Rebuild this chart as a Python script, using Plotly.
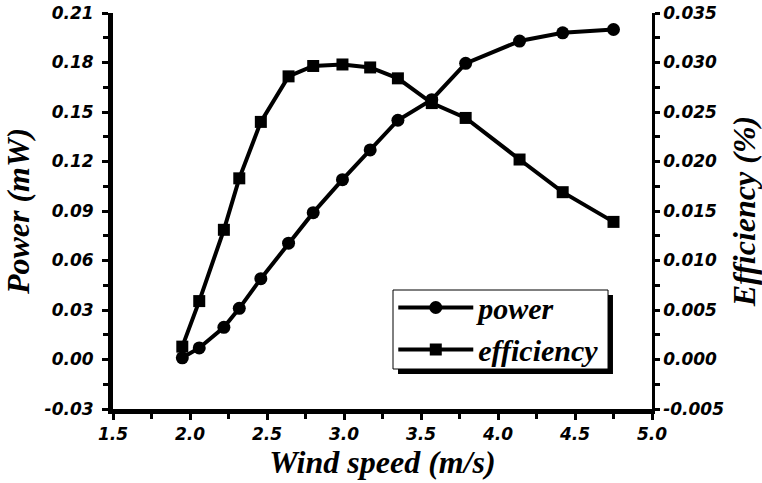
import plotly.graph_objects as go

# Wind speed (m/s) for each measurement
wind_speed = [1.95, 2.06, 2.22, 2.32, 2.46, 2.64, 2.80, 2.99, 3.17, 3.35, 3.57, 3.79, 4.14, 4.42, 4.75]
# Output power (mW)
power = [0.001, 0.007, 0.0195, 0.031, 0.049, 0.0705, 0.089, 0.109, 0.127, 0.145, 0.1575, 0.1795, 0.193, 0.198, 0.200]
# Conversion efficiency (%)
efficiency = [0.0013, 0.0059, 0.0131, 0.0183, 0.0240, 0.0286, 0.02965, 0.0298, 0.0295, 0.0284, 0.0259, 0.0244, 0.0202, 0.0169, 0.0139]

x_ticks = [1.5, 2.0, 2.5, 3.0, 3.5, 4.0, 4.5, 5.0]
x_labels = ["1.5", "2.0", "2.5", "3.0", "3.5", "4.0", "4.5", "5.0"]
p_ticks = [-0.03, 0.0, 0.03, 0.06, 0.09, 0.12, 0.15, 0.18, 0.21]
p_labels = ["-0.03", "0.00", "0.03", "0.06", "0.09", "0.12", "0.15", "0.18", "0.21"]
e_ticks = [-0.005, 0.0, 0.005, 0.010, 0.015, 0.020, 0.025, 0.030, 0.035]
e_labels = ["-0.005", "0.000", "0.005", "0.010", "0.015", "0.020", "0.025", "0.030", "0.035"]

tick_font = dict(family="DejaVu Sans", size=17, color="black", weight="bold", style="italic")
title_font = dict(family="Liberation Serif", size=32, color="black", weight="bold", style="italic")

fig = go.Figure()
fig.add_trace(go.Scatter(
    x=wind_speed, y=power, name="power", mode="lines+markers",
    line=dict(color="black", width=4),
    marker=dict(symbol="circle", size=13, color="black"),
    legendgroup="a",
))
fig.add_trace(go.Scatter(
    x=wind_speed, y=efficiency, name="efficiency", mode="lines+markers", yaxis="y2",
    line=dict(color="black", width=4),
    marker=dict(symbol="square", size=12, color="black"),
    legendgroup="b",
))

axis_common = dict(
    showgrid=False, zeroline=False, showline=True, linecolor="black",
    ticks="outside", tickcolor="black", tickfont=tick_font, automargin=False,
)

fig.update_layout(
    width=762, height=483,
    margin=dict(l=113, r=110, t=13, b=74, autoexpand=False),
    paper_bgcolor="white", plot_bgcolor="white",
    showlegend=True,
    legend=dict(
        x=0.52, y=0.322, xanchor="left", yanchor="top",
        bgcolor="rgba(0,0,0,0)", borderwidth=0,
        font=dict(family="Liberation Serif", size=30, color="black", weight="bold", style="italic"),
        itemwidth=75, tracegroupgap=0, traceorder="grouped",
    ),
    xaxis=dict(
        **axis_common, range=[1.5, 5.0], tickvals=x_ticks, ticktext=x_labels,
        linewidth=5, ticklen=6, tickwidth=3,
        minor=dict(ticks="outside", dtick=0.25, ticklen=5, tickwidth=3, tickcolor="black"),
        title=dict(text="Wind speed (m/s)", font=title_font, standoff=2),
    ),
    yaxis=dict(
        **axis_common, range=[-0.03, 0.21], tickvals=p_ticks, ticktext=p_labels,
        linewidth=5, ticklen=6, tickwidth=3, ticklabelstandoff=5,
        minor=dict(ticks="outside", dtick=0.015, ticklen=5, tickwidth=3, tickcolor="black"),
        title=dict(text="Power (mW)", font=title_font, standoff=14),
    ),
    yaxis2=dict(
        **axis_common, overlaying="y", side="right",
        range=[-0.005, 0.035], tickvals=e_ticks, ticktext=e_labels,
        linewidth=2.5, ticklen=5, tickwidth=3,
        minor=dict(ticks="outside", dtick=0.0025, ticklen=5, tickwidth=3, tickcolor="black"),
        title=dict(text="Efficiency (%)", font=title_font, standoff=16),
    ),
    shapes=[
        # legend frame: drop shadow, then white box with thin border
        dict(type="rect", xref="paper", yref="paper",
             x0=0.5288, x1=0.9276, y0=0.0884, y1=0.288,
             fillcolor="black", line=dict(width=0), layer="above"),
        dict(type="rect", xref="paper", yref="paper",
             x0=0.5195, x1=0.9184, y0=0.101, y1=0.3005,
             fillcolor="white", line=dict(color="black", width=1), layer="above"),
    ],
)

fig.write_html("out.html")
